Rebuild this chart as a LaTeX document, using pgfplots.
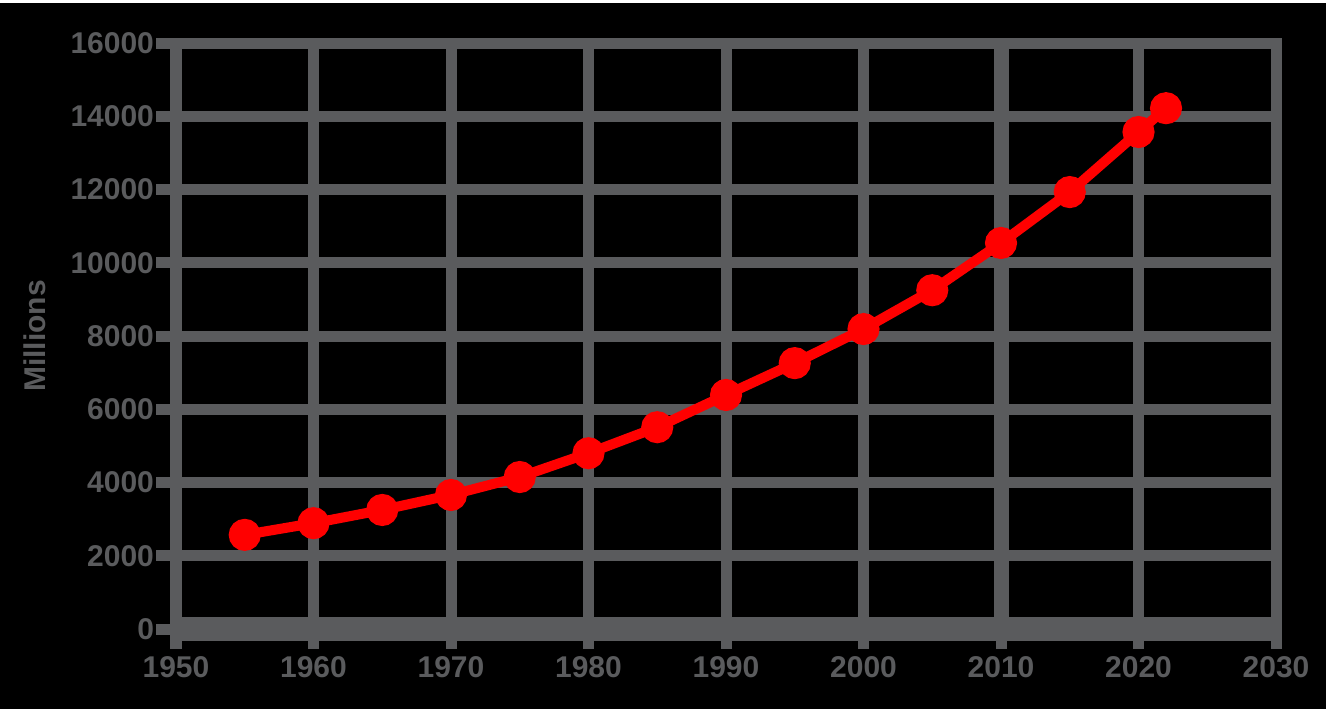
\documentclass[border=0pt]{standalone}
\usepackage{pgfplots}
\pgfplotsset{compat=1.18}
\usepackage{fontspec}
\setmainfont{Liberation Sans}
\definecolor{gridgray}{HTML}{5A5B5D}
\definecolor{linered}{HTML}{FF0000}

\pgfplotstableread{
year value
1955 2570
1960 2890
1965 3250
1970 3660
1975 4150
1980 4800
1985 5510
1990 6390
1995 7260
2000 8190
2005 9250
2010 10540
2015 11930
2020 13570
2022 14220
}\datatable

\begin{document}
\begin{tikzpicture}
% page: 1332 x 709 px at 0.5pt per px
\useasboundingbox (0pt,0pt) rectangle (666pt,354.5pt);
\fill[white] (0pt,0pt) rectangle (666pt,354.5pt);
\fill[black] (0pt,0pt) rectangle (663pt,353pt);
\begin{axis}[
    at={(88pt,40pt)}, anchor=south west,
    scale only axis,
    width=550pt, height=293pt,
    xmin=1950, xmax=2030,
    ymin=0, ymax=16000,
    xtick={1950,1960,...,2030},
    ytick={0,2000,...,16000},
    scaled ticks=false,
    /pgf/number format/1000 sep={},
    /pgf/number format/assume math mode=true,
    xtick pos=bottom, ytick pos=left,
    grid=major,
    major grid style={gridgray, line width=5.5pt},
    axis line style={gridgray, line width=5.5pt},
    every tick/.style={gridgray, line width=5.5pt},
    tick align=outside,
    major tick length=10pt,
    extra y ticks={0}, extra y tick labels={},
    extra y tick style={major grid style={gridgray, line width=12pt}},
    extra x ticks={2010}, extra x tick labels={},
    extra x tick style={major grid style={gridgray, line width=7.5pt}},
    ticklabel style={gridgray, font=\bfseries\fontsize{15}{15}\selectfont},
    yticklabel style={xshift=2.5pt},
    ylabel={Millions},
    ylabel style={gridgray, font=\bfseries\fontsize{15}{15}\selectfont,
        at={(axis description cs:-0.128,0.5)}, anchor=center},
    clip=false,
]
\addplot[linered, line width=5pt, mark=*, mark size=5.5pt,
    mark options={solid, fill=linered, draw=linered}]
    table[x=year, y=value] {\datatable};
\end{axis}
\end{tikzpicture}
\end{document}
